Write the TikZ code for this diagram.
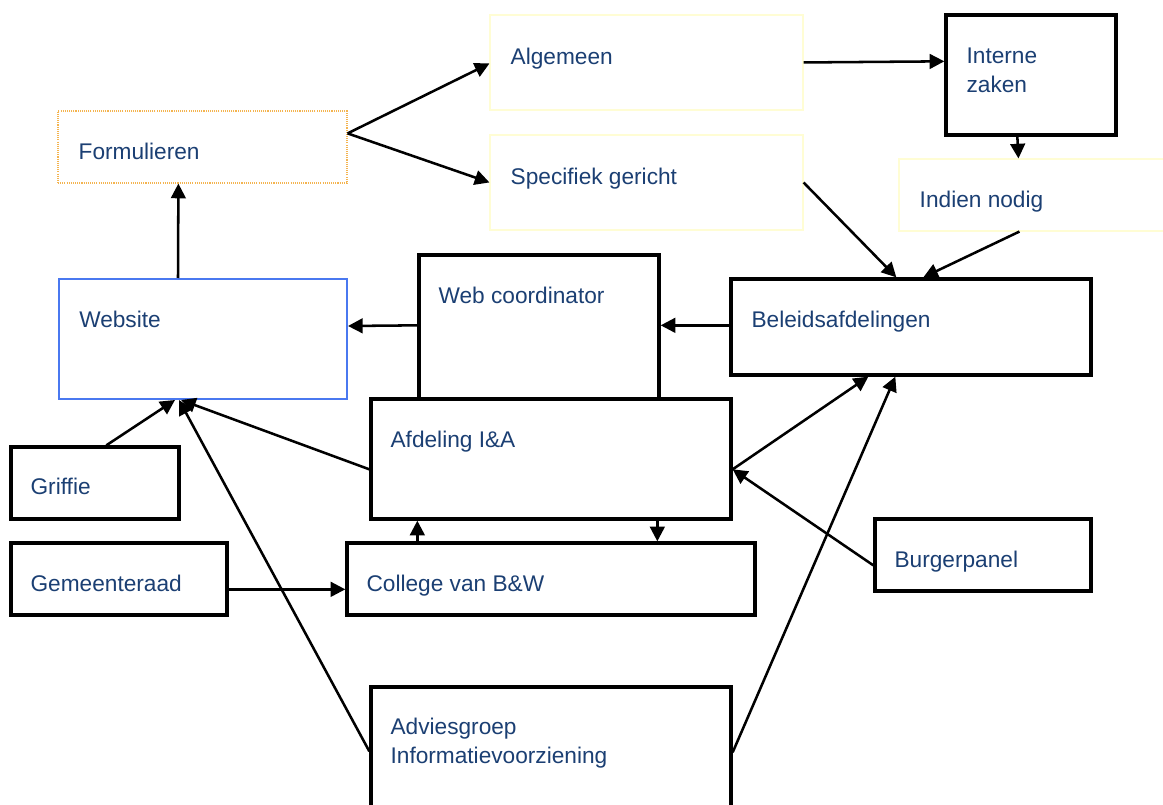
\documentclass[tikz,border=0pt]{standalone}
\usepackage{fontspec}
\setmainfont{Liberation Sans}
\usetikzlibrary{arrows.meta,calc,fit}
\definecolor{txtblue}{HTML}{1B3F73}
\definecolor{dotorange}{HTML}{F4B450}
\definecolor{paleyellow}{HTML}{FFFDD4}
\definecolor{webblue}{HTML}{4A78F0}
\tikzset{
  box/.style={draw=black, line width=2.5pt, fill=white, inner sep=0pt},
  palebox/.style={draw=paleyellow, line width=0.8pt, fill=white, inner sep=0pt},
  dotbox/.style={draw=dotorange, line width=0.9pt, dash pattern=on 0.8pt off 0.8pt, fill=white, inner sep=0pt},
  webbox/.style={draw=webblue, line width=1.5pt, fill=white, inner sep=0pt},
  txt/.style={text=txtblue, font=\fontsize{17}{21.75}\selectfont, inner sep=0pt, anchor=base west, align=left},
  arr/.style={line width=1.9pt, -{Triangle[length=11pt,width=11pt]}},
}
\begin{document}
\begin{tikzpicture}[x=0.75pt,y=-0.75pt]
\useasboundingbox (0,0) rectangle (1163,805);
% boxes
\node[dotbox, fit={(58,111) (347,183)}] (form) {};
\node[palebox, fit={(490,15) (803,110)}] (alg) {};
\node[palebox, fit={(490,135) (803,230)}] (spec) {};
\node[box, fit={(946,15) (1116,135)}] (intz) {};
\node[palebox, fit={(899,159) (1175,231)}] (ind) {};
\node[webbox, fit={(59,279) (347,399)}] (web) {};
\node[box, fit={(419,255) (659,399)}] (webc) {};
\node[box, fit={(731,279) (1091,375)}] (bel) {};
\node[box, fit={(371,399) (731,519)}] (afd) {};
\node[box, fit={(11,447) (179,519)}] (grif) {};
\node[box, fit={(11,543) (227,615)}] (gem) {};
\node[box, fit={(347,543) (755,615)}] (col) {};
\node[box, fit={(875,519) (1091,591)}] (burg) {};
\node[box, fit={(371,687) (731,840)}] (adv) {};
% texts
\node[txt] (form-t) at ($(form.north west)+(21,49)$) {Formulieren};
\node[txt] (alg-t) at ($(alg.north west)+(21,50)$) {Algemeen};
\node[txt] (spec-t) at ($(spec.north west)+(21,50)$) {Specifiek gericht};
\node[txt] (intz-t) at ($(intz.north west)+(22,79)$) {Interne\\zaken};
\node[txt] (ind-t) at ($(ind.north west)+(21,49)$) {Indien nodig};
\node[txt] (web-t) at ($(web.north west)+(21,50)$) {Website};
\node[txt] (webc-t) at ($(webc.north west)+(21,50)$) {Web coordinator};
\node[txt] (bel-t) at ($(bel.north west)+(22,50)$) {Beleidsafdelingen};
\node[txt] (afd-t) at ($(afd.north west)+(21,50)$) {Afdeling I\&A};
\node[txt] (grif-t) at ($(grif.north west)+(21,49)$) {Griffie};
\node[txt] (gem-t) at ($(gem.north west)+(21,50)$) {Gemeenteraad};
\node[txt] (col-t) at ($(col.north west)+(21,50)$) {College van B\&W};
\node[txt] (burg-t) at ($(burg.north west)+(21,50)$) {Burgerpanel};
\node[txt] (adv-t) at ($(adv.north west)+(21,78)$) {Adviesgroep\\Informatievoorziening};
% connectors
\draw[arr] ($(web.north west)+(120,0)$) -- ($(form.south west)+(121,0)$);
\draw[arr] ($(form.north east)+(0,23)$) -- ($(alg.north west)+(0,49)$);
\draw[arr] ($(form.north east)+(0,23)$) -- ($(spec.north west)+(0,48)$);
\draw[arr] ($(alg.north east)+(0,48)$) -- ($(intz.north west)+(0,48)$);
\draw[arr] ($(intz.south west)+(73,0)$) -- ($(ind.north west)+(120,0)$);
\draw[arr] ($(spec.north east)+(0,48)$) -- ($(bel.north west)+(167,0)$);
\draw[arr] ($(ind.south west)+(121,0)$) -- ($(bel.north west)+(194,0)$);
\draw[arr] ($(webc.north west)+(0,72)$) -- ($(web.north east)+(0,48)$);
\draw[arr] ($(bel.north west)+(0,48)$) -- ($(webc.north east)+(0,72)$);
\draw[arr] ($(grif.north west)+(97,0)$) -- ($(web.south west)+(117,0)$);
\draw[arr] ($(afd.north west)+(0,72)$) -- ($(web.south west)+(123,0)$);
\draw[arr] ($(adv.north west)+(0,66)$) -- ($(web.south west)+(121,0)$);
\draw[arr] ($(adv.north east)+(0,67)$) -- ($(bel.south west)+(166,0)$);
\draw[arr] ($(afd.north east)+(0,72)$) -- ($(bel.south west)+(139,0)$);
\draw[arr] ($(burg.north west)+(0,48)$) -- ($(afd.north east)+(0,72)$);
\draw[arr] ($(afd.south west)+(288,0)$) -- ($(col.north west)+(312,0)$);
\draw[arr] ($(col.north west)+(72,0)$) -- ($(afd.south west)+(48,0)$);
\draw[arr] ($(gem.north east)+(0,48)$) -- ($(col.north west)+(0,48)$);
\end{tikzpicture}
\end{document}
